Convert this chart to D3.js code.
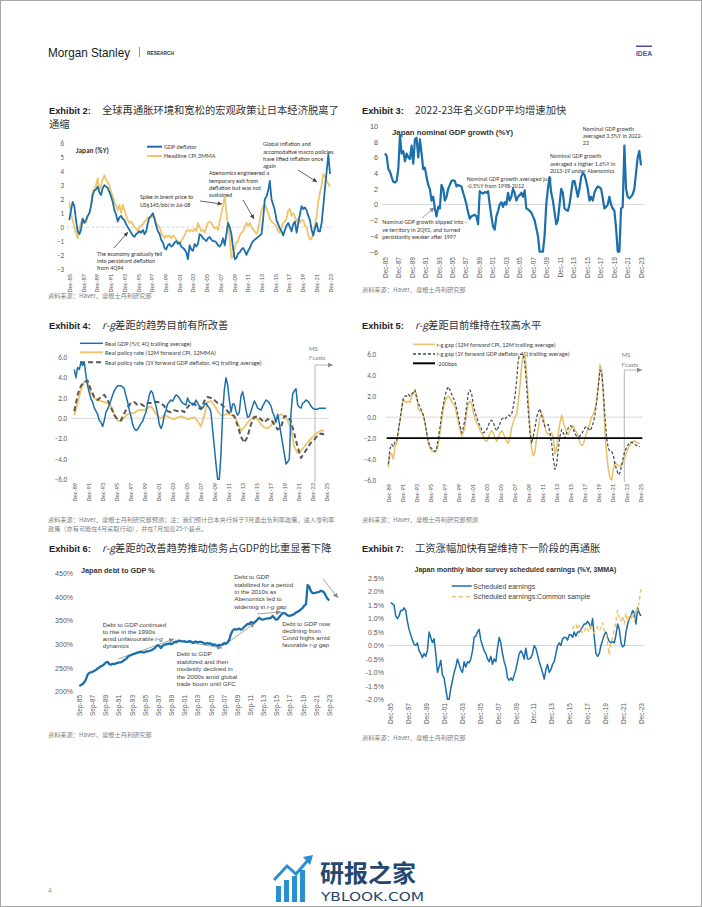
<!DOCTYPE html>
<html><head><meta charset="utf-8">
<script src="https://cdn.jsdelivr.net/npm/d3@7"></script>
<style>body{margin:0;background:#fff}svg{display:block}</style>
</head><body>
<svg id="page" width="702" height="907"></svg>
<script>
// ---------------- DATA ----------------
// Exhibit 2 (quarterly-ish, Dec-85 .. Dec-23)
const ex2Start = "Dec-85", ex2End = "Dec-23";
const ex2Ticks = ["Dec-85","Dec-87","Dec-89","Dec-91","Dec-93","Dec-95","Dec-97","Dec-99","Dec-01","Dec-03","Dec-05","Dec-07","Dec-09","Dec-11","Dec-13","Dec-15","Dec-17","Dec-19","Dec-21","Dec-23"];
const ex2YTicks = [6,5,4,3,2,1,0,-1,-2,-3];
const ex2GdpDeflator = [0.5,1.2,1.8,1.5,0.5,-0.3,-0.5,-0.2,0.6,0.3,0.5,0.8,1.0,1.5,2.3,2.6,2.7,2.9,2.5,2.3,2.8,3.0,2.9,2.8,2.5,2.2,1.8,1.2,0.9,0.4,0.7,0.8,0.6,0.5,0.2,0.0,-0.2,-0.4,-0.6,-0.7,-0.5,-0.4,-0.3,-0.4,-0.2,-0.5,-0.3,0.3,0.7,0.8,1.0,0.6,0.1,-0.3,-0.5,-0.9,-1.1,-1.5,-1.6,-1.3,-1.2,-1.4,-1.3,-1.1,-1.0,-1.2,-1.1,-1.4,-1.5,-1.6,-1.8,-2.3,-1.3,-1.6,-1.7,-1.2,-1.4,-1.2,-0.5,-0.6,-0.8,-0.9,-1.0,-0.8,-0.7,-0.9,-1.0,-1.0,-1.1,-1.3,-1.4,-1.2,-0.8,-1.3,-0.5,0.3,0.0,-0.5,-1.5,-2.3,-2.2,-1.9,-1.8,-1.6,-1.5,-1.7,-2.0,-1.7,-1.5,-1.2,-1.0,-0.9,-0.8,-0.7,-0.6,-0.5,0.6,2.0,2.2,2.6,3.3,2.0,1.6,1.2,0.5,0.2,-0.1,-0.3,-0.6,-0.2,0.1,0.3,0.0,-0.3,0.2,0.4,-0.4,0.3,0.9,1.5,1.3,1.4,1.2,0.8,0.5,-0.2,-0.6,-0.1,0.3,-0.3,-0.3,0.3,1.5,2.8,4.0,5.2,3.8];
const ex2HeadlineCpi = [1.8,1.0,0.5,0.0,-0.4,-0.8,-0.1,0.3,0.6,0.4,0.3,0.8,1.0,1.5,2.6,2.7,3.0,3.5,2.6,3.0,3.4,3.7,3.4,3.2,3.0,2.5,2.2,1.8,1.5,1.2,1.6,1.0,1.6,1.2,0.8,0.5,0.3,0.4,0.2,0.0,-0.1,-0.3,0.0,0.1,0.2,0.4,0.5,0.7,0.6,0.7,0.8,0.6,0.3,0.1,0.0,-0.4,-0.6,-0.8,-0.6,-0.7,-0.6,-0.8,-0.6,-0.7,-0.9,-1.0,-1.2,-1.0,-0.8,-0.6,-0.3,-0.2,-0.3,-0.2,-0.3,-0.1,-0.3,0.3,0.0,-0.3,-0.2,-0.4,0.0,0.3,0.4,0.3,0.1,-0.1,0.0,-0.2,0.4,1.0,1.5,2.2,1.0,0.1,-0.8,-2.2,-2.1,-1.5,-1.1,-1.0,-0.6,-0.4,-0.3,0.0,0.3,0.1,0.3,0.0,-0.2,-0.3,-0.5,-0.2,0.5,1.2,1.5,1.6,1.3,1.0,0.6,0.4,0.3,0.2,0.0,-0.3,-0.4,0.0,0.3,0.4,0.6,1.2,1.3,0.8,1.0,0.8,0.4,0.6,0.3,0.5,0.5,0.1,0.0,-0.6,-0.9,-0.8,-0.4,0.2,0.8,1.8,2.5,3.0,3.8,3.6,3.3,3.1,2.9];

// Exhibit 3
const ex3Start = "Dec-85", ex3End = "Dec-23";
const ex3Ticks = ex2Ticks;
const ex3YTicks = [10,8,6,4,2,0,-2,-4,-6];
const ex3NominalGdp = [6.5,6.2,4.5,4.2,3.5,2.9,2.8,3.0,4.5,8.8,6.5,6.8,5.5,6.5,6.0,5.8,7.5,5.2,8.3,8.5,6.0,8.3,6.5,4.5,4.7,3.5,2.5,2.0,0.5,1.0,-0.5,-1.5,-0.3,-0.5,2.5,2.0,0.5,1.0,2.0,2.5,3.0,3.1,3.0,2.3,2.5,2.4,2.3,1.5,0.8,0.0,-1.0,-1.8,-1.5,-1.4,-1.3,-1.5,-2.5,1.7,1.5,1.4,1.6,1.5,1.7,0.0,-1.5,-2.8,-3.2,-1.5,-0.8,0.0,0.3,-0.3,0.3,0.0,1.5,0.5,1.0,2.0,1.5,0.5,1.0,1.2,1.5,1.0,1.8,-0.5,-0.6,-0.8,-1.0,-1.5,-2.0,-3.0,-4.0,-6.0,-6.0,-6.0,-4.0,0.0,2.0,3.5,1.5,0.5,-1.0,-2.5,-2.0,0.0,2.0,1.5,-0.5,-0.7,-0.8,0.0,1.5,3.0,3.0,2.0,1.0,2.0,3.5,4.0,3.8,3.0,2.0,0.5,1.0,0.5,1.5,2.0,2.3,2.2,2.0,0.8,-0.5,-0.3,0.0,1.0,0.0,-0.5,-0.8,-3.0,-6.0,-6.0,-0.5,-0.3,7.5,2.0,1.0,0.8,1.0,1.3,2.0,4.0,6.0,6.8,5.0];

// Exhibit 4
const ex4Ticks = ["Dec-89","Dec-91","Dec-93","Dec-95","Dec-97","Dec-99","Dec-01","Dec-03","Dec-05","Dec-07","Dec-09","Dec-11","Dec-13","Dec-15","Dec-17","Dec-19","Dec-21","Dec-23","Dec-25"];
const ex4YTicks = [6,4,2,0,-2,-4,-6];
const ex4RealGdpStart = "Dec-89", ex4RealGdpEnd = "Dec-25";
const ex4RealGdp = [4.8,4.0,5.0,4.8,5.5,5.2,5.5,4.2,3.2,2.5,1.9,1.6,1.0,0.7,0.4,-0.2,-0.4,-0.8,-0.2,0.6,0.9,1.3,1.8,2.3,2.7,3.0,3.2,3.2,3.2,3.1,2.9,2.2,1.6,0.8,0.2,-0.6,-1.0,-1.2,-1.1,-0.8,-0.5,-0.3,0.2,0.6,1.5,2.3,2.7,2.5,1.8,1.2,0.4,-0.6,-1.0,-0.6,0.3,0.8,1.4,1.6,1.8,1.7,2.0,2.3,2.2,2.0,1.7,1.5,1.4,1.3,2.0,1.6,1.5,1.3,1.4,1.8,1.5,1.2,1.1,1.0,1.3,1.5,1.2,1.0,0.6,-1.2,-2.8,-4.5,-6.0,-6.0,-3.5,0.5,2.8,4.0,3.3,1.8,0.6,1.4,1.4,0.7,0.3,0.6,2.2,2.6,1.8,0.8,0.1,0.2,0.7,1.2,1.7,1.4,1.0,0.9,0.8,1.2,1.5,1.8,1.7,1.5,1.2,0.6,0.2,-0.4,0.4,-0.5,-1.5,-2.5,-3.5,-4.5,-4.3,-4.0,0.5,2.4,2.7,2.9,1.3,1.1,1.0,1.5,1.6,1.8,1.7,1.5,1.2,1.0,0.9,0.9,0.9,1.0,1.0,1.0,1.0,1.0];
const ex4PolicyStart = "Dec-89", ex4PolicyEnd = "Sep-25";
const ex4RealPolicyCpi = [0.3,1.5,2.8,3.6,3.6,2.5,2.0,1.8,1.7,1.6,1.5,1.2,0.4,-0.2,-0.3,0.1,0.4,0.5,0.5,0.8,0.8,0.8,1.0,1.2,0.7,0.2,0.0,0.3,0.2,0.0,-0.1,0.1,0.2,0.1,-0.1,0.0,0.1,-0.3,-0.8,0.3,1.6,1.7,1.3,0.7,0.3,0.3,0.5,0.3,0.3,-0.5,-1.2,-0.9,-0.4,-0.1,0.2,-0.1,-0.6,-0.9,-1.0,-0.7,-0.3,0.1,0.4,0.2,-0.2,-1.0,-2.8,-3.4,-3.2,-2.8,-2.4,-2.0,-1.7,-1.4,-1.2,-1.2];
const ex4RealPolicyDefl = [0.7,2.3,3.2,3.6,3.7,2.8,2.1,1.8,2.1,2.3,1.8,1.1,0.3,-0.1,-0.2,0.5,1.1,1.5,1.6,1.3,1.4,1.2,1.5,1.5,1.6,1.6,1.5,1.2,0.7,0.6,0.8,0.7,0.8,0.6,1.1,1.5,1.4,1.1,0.9,1.7,2.1,2.0,1.8,1.5,1.4,1.1,0.7,0.4,0.2,-0.7,-1.8,-2.4,-1.8,-0.6,0.1,0.2,-0.1,-0.4,-0.1,-0.1,-0.6,-1.1,-0.9,0.2,0.2,-0.3,-1.5,-2.8,-3.9,-3.4,-2.9,-2.4,-2.1,-1.7,-1.5,-1.6];

// Exhibit 5
const ex5Start = "Dec-89", ex5End = "Dec-25";
const ex5Ticks = ex4Ticks;
const ex5YTicks = [6,4,2,0,-2,-4,-6];
const ex5Threshold = -2;
const ex5GapCpi = [-4.8,-3.5,-3.5,-4.0,-2.8,-2.5,-1.5,-0.3,0.8,1.7,1.5,1.4,1.5,1.4,2.0,2.2,2.5,2.2,0.8,0.6,0.5,0.2,-0.5,-1.5,-2.5,-3.0,-3.2,-3.3,-3.3,-3.2,-2.5,-1.5,-0.3,0.8,1.5,1.8,2.0,1.8,1.5,1.3,1.0,0.3,-0.5,-1.2,-1.8,-1.5,-0.8,0.5,1.3,1.5,1.3,0.5,-0.2,-0.5,-0.8,-1.3,-1.5,-1.8,-2.2,-2.3,-2.0,-1.5,-1.3,-1.5,-2.0,-2.3,-2.0,-1.5,-1.3,-1.5,-2.0,-2.3,-2.5,-2.0,-1.0,-0.5,0.0,0.3,1.5,3.0,5.0,6.0,6.0,4.0,1.5,-1.0,-3.0,-3.7,-3.3,-2.0,-1.0,0.0,0.3,0.0,-1.0,-1.5,-1.6,-1.7,-1.5,-2.0,-3.5,-3.0,-1.5,-0.5,0.2,-0.5,-1.0,-1.5,-1.7,-1.2,-1.0,-0.8,-1.2,-1.5,-1.8,-2.5,-2.7,-2.6,-2.0,-1.5,-1.0,-0.5,0.0,0.3,0.8,1.5,3.0,5.0,4.5,2.0,-1.5,-3.5,-5.0,-5.8,-6.0,-5.0,-4.3,-4.5,-4.6,-4.7,-4.6,-4.2,-3.8,-3.3,-2.9,-2.6,-2.4,-2.3,-2.3,-2.4,-2.5,-2.5];
const ex5GapDefl = [-4.5,-3.0,-2.6,-2.8,-2.4,-2.3,-1.3,-0.3,0.8,1.8,2.0,2.0,2.2,2.0,2.2,2.4,2.6,1.8,1.3,1.0,0.6,0.2,-0.5,-1.5,-2.3,-2.8,-3.0,-3.1,-3.3,-3.0,-2.0,-1.0,0.3,1.2,2.0,2.6,2.9,2.6,2.2,1.8,1.5,0.8,0.0,-0.8,-1.5,-1.0,-0.2,1.0,2.3,2.6,2.2,1.2,0.5,0.0,-0.5,-0.8,-1.2,-1.5,-1.4,-1.2,-0.8,-0.4,-0.3,-0.5,-1.0,-1.3,-1.0,-0.6,-0.2,-0.1,-0.2,0.0,0.2,0.1,0.3,1.0,2.0,3.5,5.5,6.0,6.0,6.0,5.0,3.0,0.5,-1.5,-2.5,-1.8,-1.0,0.0,0.5,0.8,0.2,-0.5,-0.9,-0.8,-0.7,-1.5,-2.5,-4.0,-5.0,-4.5,-3.0,-1.8,-1.2,-1.5,-2.0,-1.5,-1.0,-0.8,-0.9,-1.2,-1.6,-1.8,-1.9,-1.8,-1.6,-1.3,-1.0,-0.9,-1.1,-1.3,-1.0,-0.5,0.2,1.5,3.0,4.5,4.3,2.5,0.0,-2.0,-3.0,-3.3,-3.3,-3.6,-4.5,-5.0,-5.5,-5.3,-4.6,-3.8,-3.2,-2.9,-2.6,-2.4,-2.4,-2.5,-2.6,-2.7,-2.8,-2.8];

// Exhibit 6
const ex6Start = "Sep-85", ex6End = "Sep-23";
const ex6Ticks = ["Sep-85","Sep-87","Sep-89","Sep-91","Sep-93","Sep-95","Sep-97","Sep-99","Sep-01","Sep-03","Sep-05","Sep-07","Sep-09","Sep-11","Sep-13","Sep-15","Sep-17","Sep-19","Sep-21","Sep-23"];
const ex6YTicks = [450,400,350,300,250,200];
const ex6DebtToGdp = [212,214,216,220,226,236,240,241,242,244,246,249,251,254,255,258,262,263,258,257,259,258,260,261,262,262,264,267,269,273,276,277,279,280,281,283,283,284,283,283,285,285,286,287,289,291,295,298,297,292,297,299,300,301,302,300,302,305,304,306,308,307,306,307,305,305,307,306,303,305,306,304,305,305,304,302,301,303,301,302,298,300,298,297,299,298,300,303,301,304,310,322,329,332,331,332,333,331,333,337,340,343,343,347,346,346,349,353,356,353,352,353,354,355,355,356,360,356,352,353,358,362,366,366,364,361,360,361,362,364,367,369,371,374,377,382,385,425,422,412,408,408,409,410,411,413,412,409,402,396,393];

// Exhibit 7
const ex7Ticks = ["Dec-95","Dec-97","Dec-99","Dec-01","Dec-03","Dec-05","Dec-07","Dec-09","Dec-11","Dec-13","Dec-15","Dec-17","Dec-19","Dec-21","Dec-23"];
const ex7YTicks = [2.5,2.0,1.5,1.0,0.5,0.0,-0.5,-1.0,-1.5,-2.0];
const ex7SchedStart = "Dec-95", ex7SchedEnd = "Dec-23";
const ex7Scheduled = [1.6,1.55,1.5,1.1,1.0,1.1,1.3,1.3,1.4,1.3,0.9,0.6,0.4,0.2,0.05,0.0,0.1,-0.2,-0.3,-0.45,-0.3,-0.4,-0.2,0.5,0.3,0.1,0.25,-0.3,-1.0,-0.8,-0.55,-1.1,-1.2,-1.6,-2.0,-2.0,-1.6,-1.3,-1.0,-0.8,-0.5,-0.7,-0.9,-1.0,-0.6,-0.8,-0.6,-0.65,-0.5,-0.2,0.3,0.35,0.5,0.6,0.2,0.0,-0.2,-0.3,-0.5,-0.6,-0.4,-0.7,-0.5,-0.6,-0.1,0.3,0.1,-0.3,-0.6,-0.8,-1.2,-1.3,-1.2,-1.3,-1.1,-0.9,-0.6,-0.3,-0.2,-0.3,-0.5,-0.1,-0.5,-0.5,-0.45,-0.3,0.0,-0.1,-0.35,-0.6,-0.8,-1.0,-1.25,-0.9,-0.7,-1.0,-0.9,-0.7,-0.6,-0.3,0.0,0.1,0.0,0.25,0.3,0.3,0.2,0.4,0.4,0.3,0.5,0.35,0.5,0.5,0.6,0.7,0.8,0.8,0.9,0.8,0.65,1.0,0.3,-0.3,-0.4,-0.3,0.0,0.2,0.4,0.5,0.3,0.15,0.1,0.15,0.1,0.4,0.8,0.6,0.1,-0.05,0.0,0.5,0.8,1.0,1.1,1.3,1.2,0.8,1.4,1.2,1.1];
const ex7CommonStart = "Apr-16", ex7CommonEnd = "Dec-23";
const ex7Common = [0.6,0.75,0.8,0.6,0.75,0.6,0.45,0.5,0.7,0.6,0.5,0.8,0.55,0.45,0.6,0.7,0.55,0.65,0.85,0.55,0.5,0.1,-0.35,0.1,0.3,0.6,0.9,1.3,1.0,0.9,1.1,0.8,1.2,0.9,1.1,1.0,1.2,0.9,1.4,1.3,1.7,2.1];

// ---------------- HELPERS ----------------
const MONTHS = {Jan:0,Feb:1,Mar:2,Apr:3,May:4,Jun:5,Jul:6,Aug:7,Sep:8,Oct:9,Nov:10,Dec:11};
function lbl(s){const [m,yy]=s.split('-');const n=+yy;return (n>50?1900+n:2000+n)+MONTHS[m]/12;}
function series(vals,start,end){const a=lbl(start),b=lbl(end);return vals.map((v,i)=>[a+i*(b-a)/(vals.length-1),v]);}

const svg = d3.select('#page');
const CN = '"Noto Sans CJK SC","Noto Sans",sans-serif';
const CAL = 'Carlito,Lato,"Open Sans",sans-serif';
const ARIAL = '"Liberation Sans",Arial,sans-serif';
const BLUE = '#1b6fab', YEL = '#efc46c';

const defs = svg.append('defs');
defs.append('marker').attr('id','arr').attr('viewBox','0 0 8 8').attr('refX',8).attr('refY',4)
  .attr('markerWidth',4.5).attr('markerHeight',4.5).attr('markerUnits','userSpaceOnUse').attr('orient','auto')
  .append('path').attr('d','M0,0L8,4L0,8z').attr('fill','#404040');
defs.append('marker').attr('id','arrg').attr('viewBox','0 0 8 8').attr('refX',8).attr('refY',4)
  .attr('markerWidth',5).attr('markerHeight',5).attr('markerUnits','userSpaceOnUse').attr('orient','auto')
  .append('path').attr('d','M0,0L8,4L0,8z').attr('fill','#8c8c8c');

function rich(x,y,str,o){
  const t=svg.append('text').attr('x',x).attr('y',y).attr('font-family',o.font).attr('font-size',o.size).attr('fill',o.fill||'#333');
  if(o.weight)t.attr('font-weight',o.weight);
  if(o.anchor)t.attr('text-anchor',o.anchor);
  const parts=str.split('r-g');
  parts.forEach((p,i)=>{if(i>0)t.append('tspan').attr('font-style','italic').text('r-g');if(p)t.append('tspan').text(p);});
  return t;
}
function block(x,ys,arr,o){arr.forEach((s,i)=>rich(x,ys[i],s,o));}
function arrow(x1,y1,x2,y2,m,col,w){svg.append('line').attr('x1',x1).attr('y1',y1).attr('x2',x2).attr('y2',y2)
  .attr('stroke',col||'#404040').attr('stroke-width',w||0.8).attr('marker-end',`url(#${m||'arr'})`);}

function frame(c){
  const x=d3.scaleLinear().domain([lbl(c.ticks[0]),lbl(c.ticks[c.ticks.length-1])]).range(c.xRange);
  const y=d3.scaleLinear().domain(c.yDomain).range(c.yRange);
  const ya=svg.append('g').attr('transform',`translate(${c.yLabelX},0)`)
    .call(d3.axisLeft(y).tickValues(c.yTicks).tickFormat(c.yFormat).tickSize(0).tickPadding(0));
  ya.select('.domain').remove();
  ya.selectAll('text').attr('font-family',c.font).attr('font-size',c.yFont).attr('fill','#595959');
  const xa=svg.append('g').attr('transform',`translate(0,${c.xLabelY})`)
    .call(d3.axisBottom(x).tickValues(c.ticks.map(lbl)).tickFormat((d,i)=>c.ticks[i]).tickSize(0).tickPadding(0));
  xa.select('.domain').remove();
  xa.selectAll('text').attr('transform','rotate(-90)').attr('text-anchor','end').attr('x',0).attr('y',0)
    .attr('dy','0.33em').attr('font-family',c.font).attr('font-size',c.xFont).attr('fill','#595959');
  if(c.zero!==undefined){
    const zl=svg.append('line').attr('x1',c.xRange[0]-3).attr('x2',c.xRange[1]+3).attr('y1',y(c.zero)).attr('y2',y(c.zero))
      .attr('stroke',c.zeroCol||'#d9d9d9').attr('stroke-width',1);
    if(c.zeroDash)zl.attr('stroke-dasharray',c.zeroDash);
  }
  return {x,y};
}
function drawLine(f,data,col,w,dash){
  const p=svg.append('path').datum(data).attr('fill','none').attr('stroke',col).attr('stroke-width',w)
    .attr('stroke-linejoin','round').attr('d',d3.line().x(d=>f.x(d[0])).y(d=>f.y(d[1])));
  if(dash)p.attr('stroke-dasharray',dash);
  return p;
}
function title(x,y,ex,cn){
  svg.append('text').attr('x',x).attr('y',y).attr('font-family',ARIAL).attr('font-weight','bold').attr('font-size',9.3).attr('fill','#222').text(ex);
  rich(x+53,y,cn,{font:CN,size:10.3,fill:'#333'});
}
function source(x,y,s){svg.append('text').attr('x',x).attr('y',y).attr('font-family',CN).attr('font-size',6.2).attr('fill','#808080').text(s);}

// ---------------- PAGE ----------------
svg.append('rect').attr('x',0.5).attr('y',0.5).attr('width',701).attr('height',906).attr('fill','#fff').attr('stroke','#a6a6a6');
svg.append('text').attr('x',48).attr('y',57).attr('font-family',ARIAL).attr('font-size',13).attr('fill','#1a1a1a')
  .attr('textLength',82).attr('lengthAdjust','spacingAndGlyphs').text('Morgan Stanley');
svg.append('line').attr('x1',139.5).attr('x2',139.5).attr('y1',47).attr('y2',57).attr('stroke','#666').attr('stroke-width',0.7);
svg.append('text').attr('x',147).attr('y',55).attr('font-family',ARIAL).attr('font-weight','bold').attr('font-size',5).attr('fill','#333')
  .attr('textLength',27).attr('lengthAdjust','spacingAndGlyphs').text('RESEARCH');
svg.append('rect').attr('x',636).attr('y',45.5).attr('width',16).attr('height',1.5).attr('fill','#4b4f9e');
svg.append('text').attr('x',636).attr('y',55.5).attr('font-family',ARIAL).attr('font-weight','bold').attr('font-size',7.5).attr('fill','#4b4f9e')
  .attr('textLength',16).attr('lengthAdjust','spacingAndGlyphs').text('IDEA');

// ---------------- EXHIBIT 2 ----------------
title(49,114,'Exhibit 2:','全球再通胀环境和宽松的宏观政策让日本经济脱离了');
rich(49,128,'通缩',{font:CN,size:10.3,fill:'#333'});
const f2=frame({ticks:ex2Ticks,xRange:[69.3,330],yDomain:[-3,6],yRange:[269,143.3],yTicks:ex2YTicks,yFormat:d3.format('d'),
  yLabelX:64,xLabelY:274,font:CAL,yFont:7,xFont:6.5,zero:0,zeroCol:'#cfd6de',zeroDash:'3,2'});
rich(76,152.5,'Japan (%Y)',{font:CAL,size:7.3,weight:'bold',fill:'#333'});
[[ex2GdpDeflator,BLUE,'GDP deflator',146.7],[ex2HeadlineCpi,YEL,'Headline CPI 3MMA',156]].forEach(([d,c,n,yy])=>{
  svg.append('line').attr('x1',147).attr('x2',162).attr('y1',yy).attr('y2',yy).attr('stroke',c).attr('stroke-width',2);
  rich(164,yy+2.2,n,{font:CAL,size:6.3,fill:'#404040'});
});
const a2={font:CAL,size:6,fill:'#333'};
block(263,[146,153.5,161,168],['Global inflation and','accomodative macro policies','have lifted inflation once','again'],a2);
block(209,[175,182.5,190,197],['Abenomics engineered a','temporary exit from','deflation but was not','sustained'],a2);
block(140,[199,206.5],['Spike in brent price to','US$145/bbl in Jul-08'],a2);
block(97,[255.5,263,270],['The economy gradually fell','into persistant deflation','from 4Q94'],a2);
arrow(298,170,317,182); arrow(243,200,254,219); arrow(200,201,222,204); arrow(114,248,128,232);
drawLine(f2,series(ex2HeadlineCpi,ex2Start,ex2End),YEL,1.8);
drawLine(f2,series(ex2GdpDeflator,ex2Start,ex2End),BLUE,1.8);
source(48,298,'资料来源：Haver、摩根士丹利研究部');

// ---------------- EXHIBIT 3 ----------------
title(362,114,'Exhibit 3:','2022-23年名义GDP平均增速加快');
const f3=frame({ticks:ex3Ticks,xRange:[385,641],yDomain:[-6,10],yRange:[251.7,126],yTicks:ex3YTicks,yFormat:d3.format('d'),
  yLabelX:378,xLabelY:257,font:ARIAL,yFont:7.3,xFont:6.5,zero:0});
rich(392,134.5,'Japan nominal GDP growth (%Y)',{font:ARIAL,size:7.8,weight:'bold',fill:'#333'});
const a3={font:CAL,size:6,fill:'#404040'};
block(582.7,[130.5,137.5,145],['Nominal GDP growth','averaged 3.5%Y in 2022-','23'],a3);
block(550,[158,165.5,173],['Nominal GDP growth','averaged a higher 1.6%Y in','2013-19 under Abenomics'],a3);
block(466.7,[181,188],['Nominal GDP growth averaged just','-0.5%Y from 1998-2012'],a3);
block(382.3,[224,231.5,239],['Nominal GDP growth slipped into -','ve territory in 2Q93, and turned','persistantly weaker after 1997'],a3);
arrow(422,218,434.5,207.5,'arrg','#8c8c8c',0.8);
drawLine(f3,series(ex3NominalGdp,ex3Start,ex3End),BLUE,2.2);
source(362,292,'资料来源：Haver、摩根士丹利研究部');

// ---------------- EXHIBIT 4 ----------------
title(49,329,'Exhibit 4:','r-g差距的趋势目前有所改善');
const f4=frame({ticks:ex4Ticks,xRange:[74.3,326],yDomain:[-6,6],yRange:[479.3,357.3],yTicks:ex4YTicks,yFormat:d3.format('.1f'),
  yLabelX:67,xLabelY:483,font:CAL,yFont:7,xFont:6.5,zero:0});
const leg4=[['Real GDP (%Y, 4Q trailing average)',BLUE,1.5,null,343.3],
  ['Real policy rate (12M forward CPI, 12MMA)',YEL,2,null,352.3],
  ['Real policy rate (1Y forward GDP deflator, 4Q trailing average)','#595959',2,'5,3',362.3]];
leg4.forEach(([n,c,w,da,yy])=>{
  const l=svg.append('line').attr('x1',80).attr('x2',103).attr('y1',yy).attr('y2',yy).attr('stroke',c).attr('stroke-width',w);
  if(da)l.attr('stroke-dasharray',da);
  rich(105,yy+2.2,n,{font:CAL,size:6.3,fill:'#404040'});
});
svg.append('line').attr('x1',315).attr('x2',315).attr('y1',365).attr('y2',482).attr('stroke','#a6a6a6').attr('stroke-width',0.8);
arrow(315,365,333,365,'arrg','#a6a6a6',0.8);
rich(309,350.5,'MS',{font:CAL,size:6.5,fill:'#7f7f7f'}); rich(309,360,"f'casts",{font:CAL,size:6.5,fill:'#7f7f7f'});
drawLine(f4,series(ex4RealPolicyCpi,ex4PolicyStart,ex4PolicyEnd),YEL,1.8);
drawLine(f4,series(ex4RealPolicyDefl,ex4PolicyStart,ex4PolicyEnd),'#595959',2,'5,3');
drawLine(f4,series(ex4RealGdp,ex4RealGdpStart,ex4RealGdpEnd),BLUE,1.5);
source(48,522,'资料来源：Haver、摩根士丹利研究部预测；注：我们预计日本央行将于3月退出负利率政策，进入零利率');
source(48,531,'政策（亦有可能在4月采取行动），并在7月加息25个基点。');

// ---------------- EXHIBIT 5 ----------------
title(362,329,'Exhibit 5:','r-g差距目前维持在较高水平');
const f5=frame({ticks:ex5Ticks,xRange:[388.3,640],yDomain:[-6,6],yRange:[480,354.3],yTicks:ex5YTicks,yFormat:d3.format('.1f'),
  yLabelX:376,xLabelY:484,font:CAL,yFont:7,xFont:6.5,zero:0});
const leg5=[['r-g gap (12M forward CPI, 12M trailing average)',YEL,1.5,null,344.3],
  ['r-g gap (1Y forward GDP deflator, 4Q trailing average)','#3f4859',1.3,'3,2',354],
  ['-200bps','#000',2,null,363.3]];
leg5.forEach(([n,c,w,da,yy])=>{
  const l=svg.append('line').attr('x1',413).attr('x2',435).attr('y1',yy).attr('y2',yy).attr('stroke',c).attr('stroke-width',w);
  if(da)l.attr('stroke-dasharray',da);
  svg.append('text').attr('x',436.7).attr('y',yy+2.2).attr('font-family',CAL).attr('font-size',6.2).attr('fill','#404040').text(n);
});
svg.append('line').attr('x1',624.3).attr('x2',624.3).attr('y1',370).attr('y2',482).attr('stroke','#a6a6a6').attr('stroke-width',0.8);
arrow(624.3,370,642,370,'arrg','#a6a6a6',0.8);
rich(621.7,357,'MS',{font:CAL,size:6.5,fill:'#7f7f7f'}); rich(621.7,367,"f'casts",{font:CAL,size:6.5,fill:'#7f7f7f'});
drawLine(f5,series(ex5GapCpi,ex5Start,ex5End),'#e8c064',1.5);
drawLine(f5,series(ex5GapDefl,ex5Start,ex5End),'#3f4859',1.2,'3,2');
svg.append('line').attr('x1',386.7).attr('x2',642.3).attr('y1',f5.y(ex5Threshold)).attr('y2',f5.y(ex5Threshold)).attr('stroke','#000').attr('stroke-width',1.8);
source(362,522,'资料来源：Haver、摩根士丹利研究部预测');

// ---------------- EXHIBIT 6 ----------------
title(49,552,'Exhibit 6:','r-g差距的改善趋势推动债务占GDP的比重显著下降');
const f6=frame({ticks:ex6Ticks,xRange:[79.3,329.3],yDomain:[200,450],yRange:[691.7,573.3],yTicks:ex6YTicks,yFormat:d=>d+'%',
  yLabelX:73,xLabelY:695,font:ARIAL,yFont:7,xFont:6.5});
rich(81,572.5,'Japan debt to GDP %',{font:ARIAL,size:7.3,weight:'bold',fill:'#333'});
const a6={font:ARIAL,size:6.2,fill:'#404040'};
block(234.3,[579,586.5,594,601.3,609],['Debt to GDP','stabilized for a period','in the 2010s as','Abenomics led to','widening in r-g gap'],a6);
block(102.7,[626.5,634,641.3,648],['Debt to GDP continued','to rise in the 1990s','amid unfavourable r-g','dynamics'],a6);
block(176.7,[656.3,664,671.3,679,685.8],['Debt to GDP','stabilized and then','modestly declined in','the 2000s amid global','trade boom until GFC'],a6);
block(282.3,[625.5,633,640.2,647.3],['Debt to GDP now','declining from','Covid highs amid','favorable r-g gap'],a6);
arrow(118.3,659,174,639,'arrg','#8c8c8c',0.8);
arrow(175,640,222,648,'arrg','#8c8c8c',0.8);
arrow(223,646,255,623,'arrg','#8c8c8c',0.8);
arrow(257,614,281,612,'arrg','#8c8c8c',0.8);
arrow(323,579,338,598,'arrg','#8c8c8c',0.8);
drawLine(f6,series(ex6DebtToGdp,ex6Start,ex6End),BLUE,2.3);
source(48,737,'资料来源：Haver、摩根士丹利研究部');

// ---------------- EXHIBIT 7 ----------------
title(362,552,'Exhibit 7:','工资涨幅加快有望维持下一阶段的再通胀');
const f7=frame({ticks:ex7Ticks,xRange:[390.7,641],yDomain:[-2,2.5],yRange:[699.3,578.3],yTicks:ex7YTicks,yFormat:d=>d.toFixed(1)+'%',
  yLabelX:384,xLabelY:703,font:ARIAL,yFont:7,xFont:6.5,zero:0});
rich(515.5,571.5,'Japan monthly labor survey scheduled earnings (%Y, 3MMA)',{font:ARIAL,size:7,weight:'bold',fill:'#333',anchor:'middle'});
svg.append('line').attr('x1',451.7).attr('x2',471.7).attr('y1',586).attr('y2',586).attr('stroke',BLUE).attr('stroke-width',1.5);
rich(473.3,588.5,'Scheduled earnings',{font:ARIAL,size:7,fill:'#404040'});
svg.append('line').attr('x1',451.7).attr('x2',471.7).attr('y1',596.7).attr('y2',596.7).attr('stroke',YEL).attr('stroke-width',1.5).attr('stroke-dasharray','4,3');
rich(473.3,599.2,'Scheduled earnings:Common sample',{font:ARIAL,size:7,fill:'#404040'});
drawLine(f7,series(ex7Scheduled,ex7SchedStart,ex7SchedEnd),BLUE,1.5);
drawLine(f7,series(ex7Common,ex7CommonStart,ex7CommonEnd),YEL,1.5,'4,3');
source(362,740,'资料来源：Haver、摩根士丹利研究部');

// ---------------- FOOTER ----------------
svg.append('text').attr('x',48).attr('y',893).attr('font-family',ARIAL).attr('font-size',7).attr('fill','#9a9a9a').text('4');
const wm=svg.append('g');
[[276,886,5,16],[284,880,5,22],[292,876,5,26],[300,870,5,32]].forEach(([bx,by,bw,bh])=>
  wm.append('rect').attr('x',bx).attr('y',by).attr('width',bw).attr('height',bh).attr('fill','#2a8fd1'));
wm.append('polyline').attr('points','274,880 287,866 296,874 309,859').attr('fill','none').attr('stroke','#2a8fd1').attr('stroke-width',3);
wm.append('path').attr('d','M303,857 L313,855 L310,865 Z').attr('fill','#2a8fd1');
wm.append('text').attr('x',320).attr('y',882).attr('font-family',CN).attr('font-size',24).attr('font-weight','bold').attr('fill','#24466f').text('研报之家');
wm.append('text').attr('x',321).attr('y',901).attr('font-family','"DejaVu Sans",sans-serif').attr('font-size',12).attr('fill','#24466f')
  .attr('textLength',103).attr('lengthAdjust','spacingAndGlyphs').text('YBLOOK.COM');
</script>
</body></html>
